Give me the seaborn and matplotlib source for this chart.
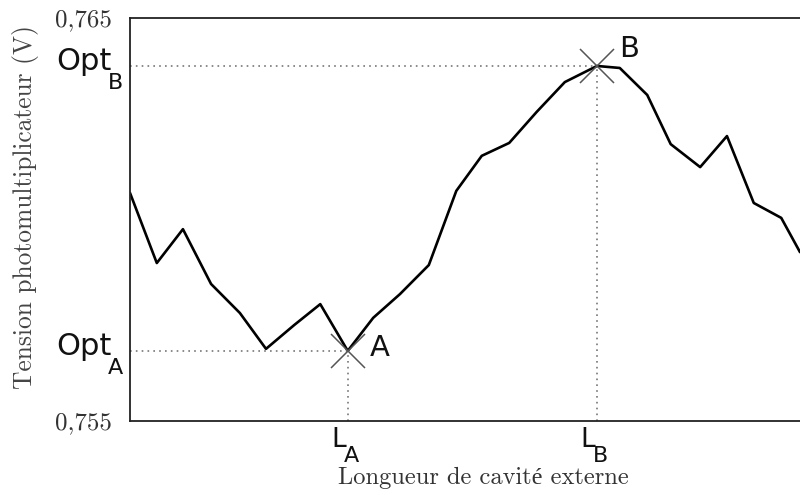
import matplotlib
matplotlib.use("Agg")
import matplotlib.pyplot as plt
import matplotlib.transforms as mtransforms
import seaborn as sns
import pandas as pd

# Scan of the photomultiplier voltage vs external cavity length (arbitrary length units)
cavity_length = [0.00, 0.40, 0.79, 1.21, 1.64, 2.03, 2.45, 2.84, 3.25, 3.63,
                 4.03, 4.46, 4.87, 5.25, 5.66, 6.07, 6.49, 6.97, 7.31, 7.72,
                 8.07, 8.51, 8.91, 9.31, 9.72, 10.00]
voltage = [0.76066, 0.75892, 0.75976, 0.75840, 0.75768, 0.75679, 0.75738, 0.75790,
           0.75674, 0.75756, 0.75815, 0.75887, 0.76071, 0.76158, 0.76190, 0.76267,
           0.76341, 0.76381, 0.76376, 0.76309, 0.76187, 0.76130, 0.76207, 0.76041,
           0.76004, 0.75919]

# Optimum points A and B
point_names = ["A", "B"]
point_length = [3.25, 6.97]
point_voltage = [0.75674, 0.76381]

y_ticks = [0.755, 0.765]
y_tick_labels = ["0,755", "0,765"]
x_label = "Longueur de cavité externe"
y_label = "Tension photomultiplicateur (V)"

sns.set_theme(style="white")
plt.rcParams["font.family"] = ["DejaVu Sans"]
serif = ["cmr10", "Liberation Serif"]

df = pd.DataFrame({"L": cavity_length, "V": voltage})

fig = plt.figure(figsize=(8, 4.95), dpi=100)
ax = fig.add_axes([130 / 800, 1 - 421 / 495, 1 - 130 / 800, (421 - 18) / 495])

sns.lineplot(data=df, x="L", y="V", ax=ax, color="black", linewidth=1.9)

ax.set_xlim(0, 10)
ax.set_ylim(0.755, 0.765)

for side in ["left", "top", "bottom"]:
    ax.spines[side].set_color("#222222")
    ax.spines[side].set_linewidth(1.3)
ax.spines["right"].set_visible(False)

ax.set_xticks([])
ax.set_yticks(y_ticks)
ax.set_yticklabels(y_tick_labels, family=serif, fontsize=18, color="#333333")
ax.tick_params(axis="y", length=0, pad=13)

ax.set_xlabel("")
ax.set_ylabel("")
fig.text(26 / 800, 1 - 207 / 495, y_label, rotation=90, ha="center", va="center",
         family=serif, fontsize=18.3, color="#444444")
fig.text(483 / 800, 1 - 478 / 495, x_label, ha="center", va="center",
         family=serif, fontsize=17.6, color="#333333")

# Guide lines, markers and labels for the optima
xaxis_tr = mtransforms.blended_transform_factory(ax.transData, ax.transAxes)
yaxis_tr = mtransforms.blended_transform_factory(ax.transAxes, ax.transData)
label_lift = {"A": 2, "B": 12}
for name, lx, vy in zip(point_names, point_length, point_voltage):
    ax.plot([0, lx], [vy, vy], linestyle=(0, (1, 2.5)), color="#777777", linewidth=1.2)
    ax.plot([lx, lx], [0.755, vy], linestyle=(0, (1, 2.5)), color="#777777", linewidth=1.2)
    ax.plot([lx], [vy], marker="x", markersize=24, markeredgewidth=1.1,
            color="#555555", zorder=5)
    ax.annotate(name, (lx, vy), xytext=(16, label_lift[name]), textcoords="offset points",
                fontsize=21, color="#111111", ha="left", va="center")
    # Opt label on the y axis
    ax.annotate("Opt", (0, vy), xycoords=yaxis_tr, xytext=(-13, 3.5),
                textcoords="offset points", fontsize=22, color="#111111",
                ha="right", va="center")
    ax.annotate(name, (0, vy), xycoords=yaxis_tr, xytext=(-5, -12.5),
                textcoords="offset points", fontsize=16, color="#111111",
                ha="right", va="center")
    # L label on the x axis
    ax.annotate("L", (lx, 0), xycoords=xaxis_tr, xytext=(-1, -4),
                textcoords="offset points", fontsize=19, color="#111111",
                ha="right", va="top")
    ax.annotate(name, (lx, 0), xycoords=xaxis_tr, xytext=(-3, -18),
                textcoords="offset points", fontsize=16, color="#111111",
                ha="left", va="top")

fig.savefig("out.png", dpi=100)
